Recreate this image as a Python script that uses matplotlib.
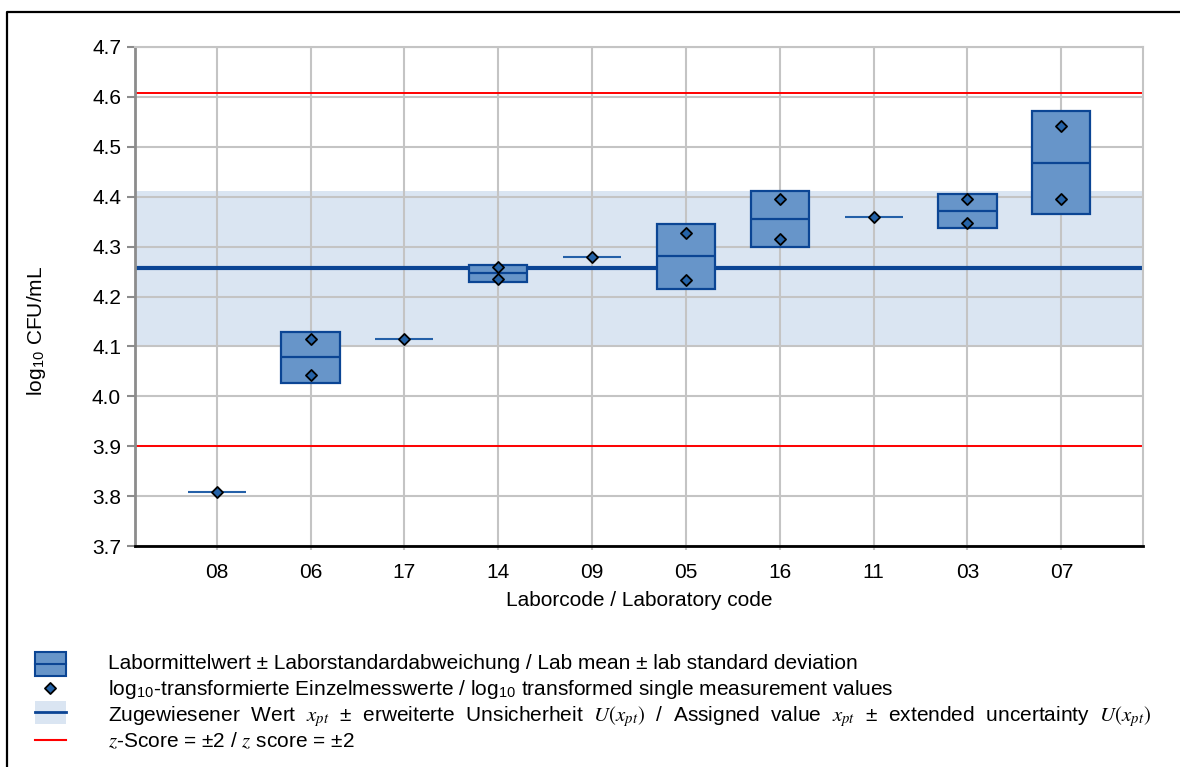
import numpy as np
import matplotlib
matplotlib.use('Agg')
import matplotlib.pyplot as plt
from matplotlib.patches import Rectangle

plt.rcParams['font.family'] = 'Liberation Sans'
plt.rcParams['mathtext.fontset'] = 'custom'
plt.rcParams['mathtext.rm'] = 'STIXGeneral'
plt.rcParams['mathtext.it'] = 'STIXGeneral:italic'
plt.rcParams['mathtext.sf'] = 'Liberation Sans'

# lab codes in plotting order
labs = ['08', '06', '17', '14', '09', '05', '16', '11', '03', '07']
# single measurement values per lab (log10 CFU/mL)
values = [
    [3.809],
    [4.114, 4.042],
    [4.114],
    [4.259, 4.235],
    [4.279],
    [4.327, 4.234],
    [4.395, 4.315],
    [4.359],
    [4.395, 4.347],
    [4.541, 4.395],
]
# assigned value and expanded uncertainty
x_pt = 4.257
U_xpt = 0.155
# z-score = +-2 limits
z_lines = [3.900, 4.608]

box_face = '#6795C9'
box_edge = '#0B4594'
pt_face = '#2563A8'
band_col = '#DAE5F2'
assigned_col = '#0B4494'
grid_col = '#C4C4C4'
fs = 15

fig = plt.figure(figsize=(11.8, 7.67), dpi=100)
ax = fig.add_axes([135 / 1180, 1 - 546 / 767, (1143 - 135) / 1180, (546 - 47) / 767])

w = 0.62
for i, vals in enumerate(values):
    v = np.array(vals)
    m = v.mean()
    if len(v) > 1:
        sd = v.std(ddof=1)
        ax.bar(i, 2 * sd, bottom=m - sd, width=w, color=box_face,
               edgecolor=box_edge, linewidth=1.6, zorder=3)
        ax.hlines(m, i - w / 2, i + w / 2, color=box_edge, lw=1.6, zorder=4)
    else:
        ax.hlines(m, i - w / 2, i + w / 2, color='#2460A8', lw=1.5, zorder=4)
    ax.scatter(np.full(len(v), i), v, marker='D', s=32, c=pt_face,
               edgecolors='black', linewidths=1.3, zorder=5)

# assigned value band, assigned value and z-score limits
ax.axhspan(x_pt - U_xpt, x_pt + U_xpt, color=band_col, lw=0, zorder=0.2)
ax.axhline(x_pt, color=assigned_col, lw=3, zorder=2)
for z in z_lines:
    ax.axhline(z, color='#FF0000', lw=1.4, zorder=2)

ax.set_xlim(-0.87, 9.87)
ax.set_ylim(3.7, 4.7)
ax.set_xticks(range(len(labs)))
ax.set_xticklabels(labs)
yt = np.round(np.arange(3.7, 4.71, 0.1), 1)
ax.set_yticks(yt)
ax.set_yticklabels(['%.1f' % t for t in yt])

ax.set_axisbelow(True)
ax.grid(True, color=grid_col, lw=1.5)
for s in ['top', 'right']:
    ax.spines[s].set_color(grid_col)
    ax.spines[s].set_linewidth(1.5)
ax.spines['left'].set_color('#8C8C8C')
ax.spines['left'].set_linewidth(2)
ax.spines['bottom'].set_color('black')
ax.spines['bottom'].set_linewidth(2)
ax.tick_params(axis='y', length=6, width=1.5, color='#8C8C8C', labelsize=fs, pad=4)
ax.tick_params(axis='x', length=3, width=1.5, color=grid_col, labelsize=fs, pad=9)

fig.text(36 / 1180, 1 - 331 / 767, r'log$_{\mathsf{10}}$ CFU/mL', rotation=90,
         ha='center', va='center', fontsize=fs)
fig.text(639 / 1180, 1 - 600 / 767, 'Laborcode / Laboratory code',
         ha='center', va='center', fontsize=fs)

# overlay for border and legend (pixel coordinates)
lax = fig.add_axes([0, 0, 1, 1])
lax.set_xlim(0, 1180)
lax.set_ylim(767, 0)
lax.axis('off')
lax.plot([7, 7, 1180], [767, 12, 12], color='black', lw=1.6, clip_on=False)

lax.add_patch(Rectangle((35, 652), 31, 24, fc=box_face, ec=box_edge, lw=1.5))
lax.plot([35, 66], [664, 664], color=box_edge, lw=1.5)
lax.scatter([50], [688], marker='D', s=32, c=pt_face, edgecolors='black', linewidths=1.3)
lax.add_patch(Rectangle((35, 701), 31, 23, fc=band_col, ec='none'))
lax.plot([35, 66], [712, 712], color=assigned_col, lw=2)
lax.plot([35, 66], [740, 740], color='#FF0000', lw=1.5)

legend_texts = [
    'Labormittelwert ± Laborstandardabweichung / Lab mean ± lab standard deviation',
    r'log$_{\mathsf{10}}$-transformierte Einzelmesswerte / log$_{\mathsf{10}}$ transformed single measurement values',
    r'Zugewiesener  Wert  $x_{pt}$  ±  erweiterte  Unsicherheit  $U(x_{pt})$  /  Assigned  value  $x_{pt}$  ±  extended  uncertainty  $U(x_{pt})$',
    r'$z$-Score = ±2 / $z$ score = ±2',
]
for k, t in enumerate(legend_texts):
    lax.text(108, 669 + 26 * k, t, ha='left', va='baseline', fontsize=fs)

fig.savefig('out.png', dpi=100)
